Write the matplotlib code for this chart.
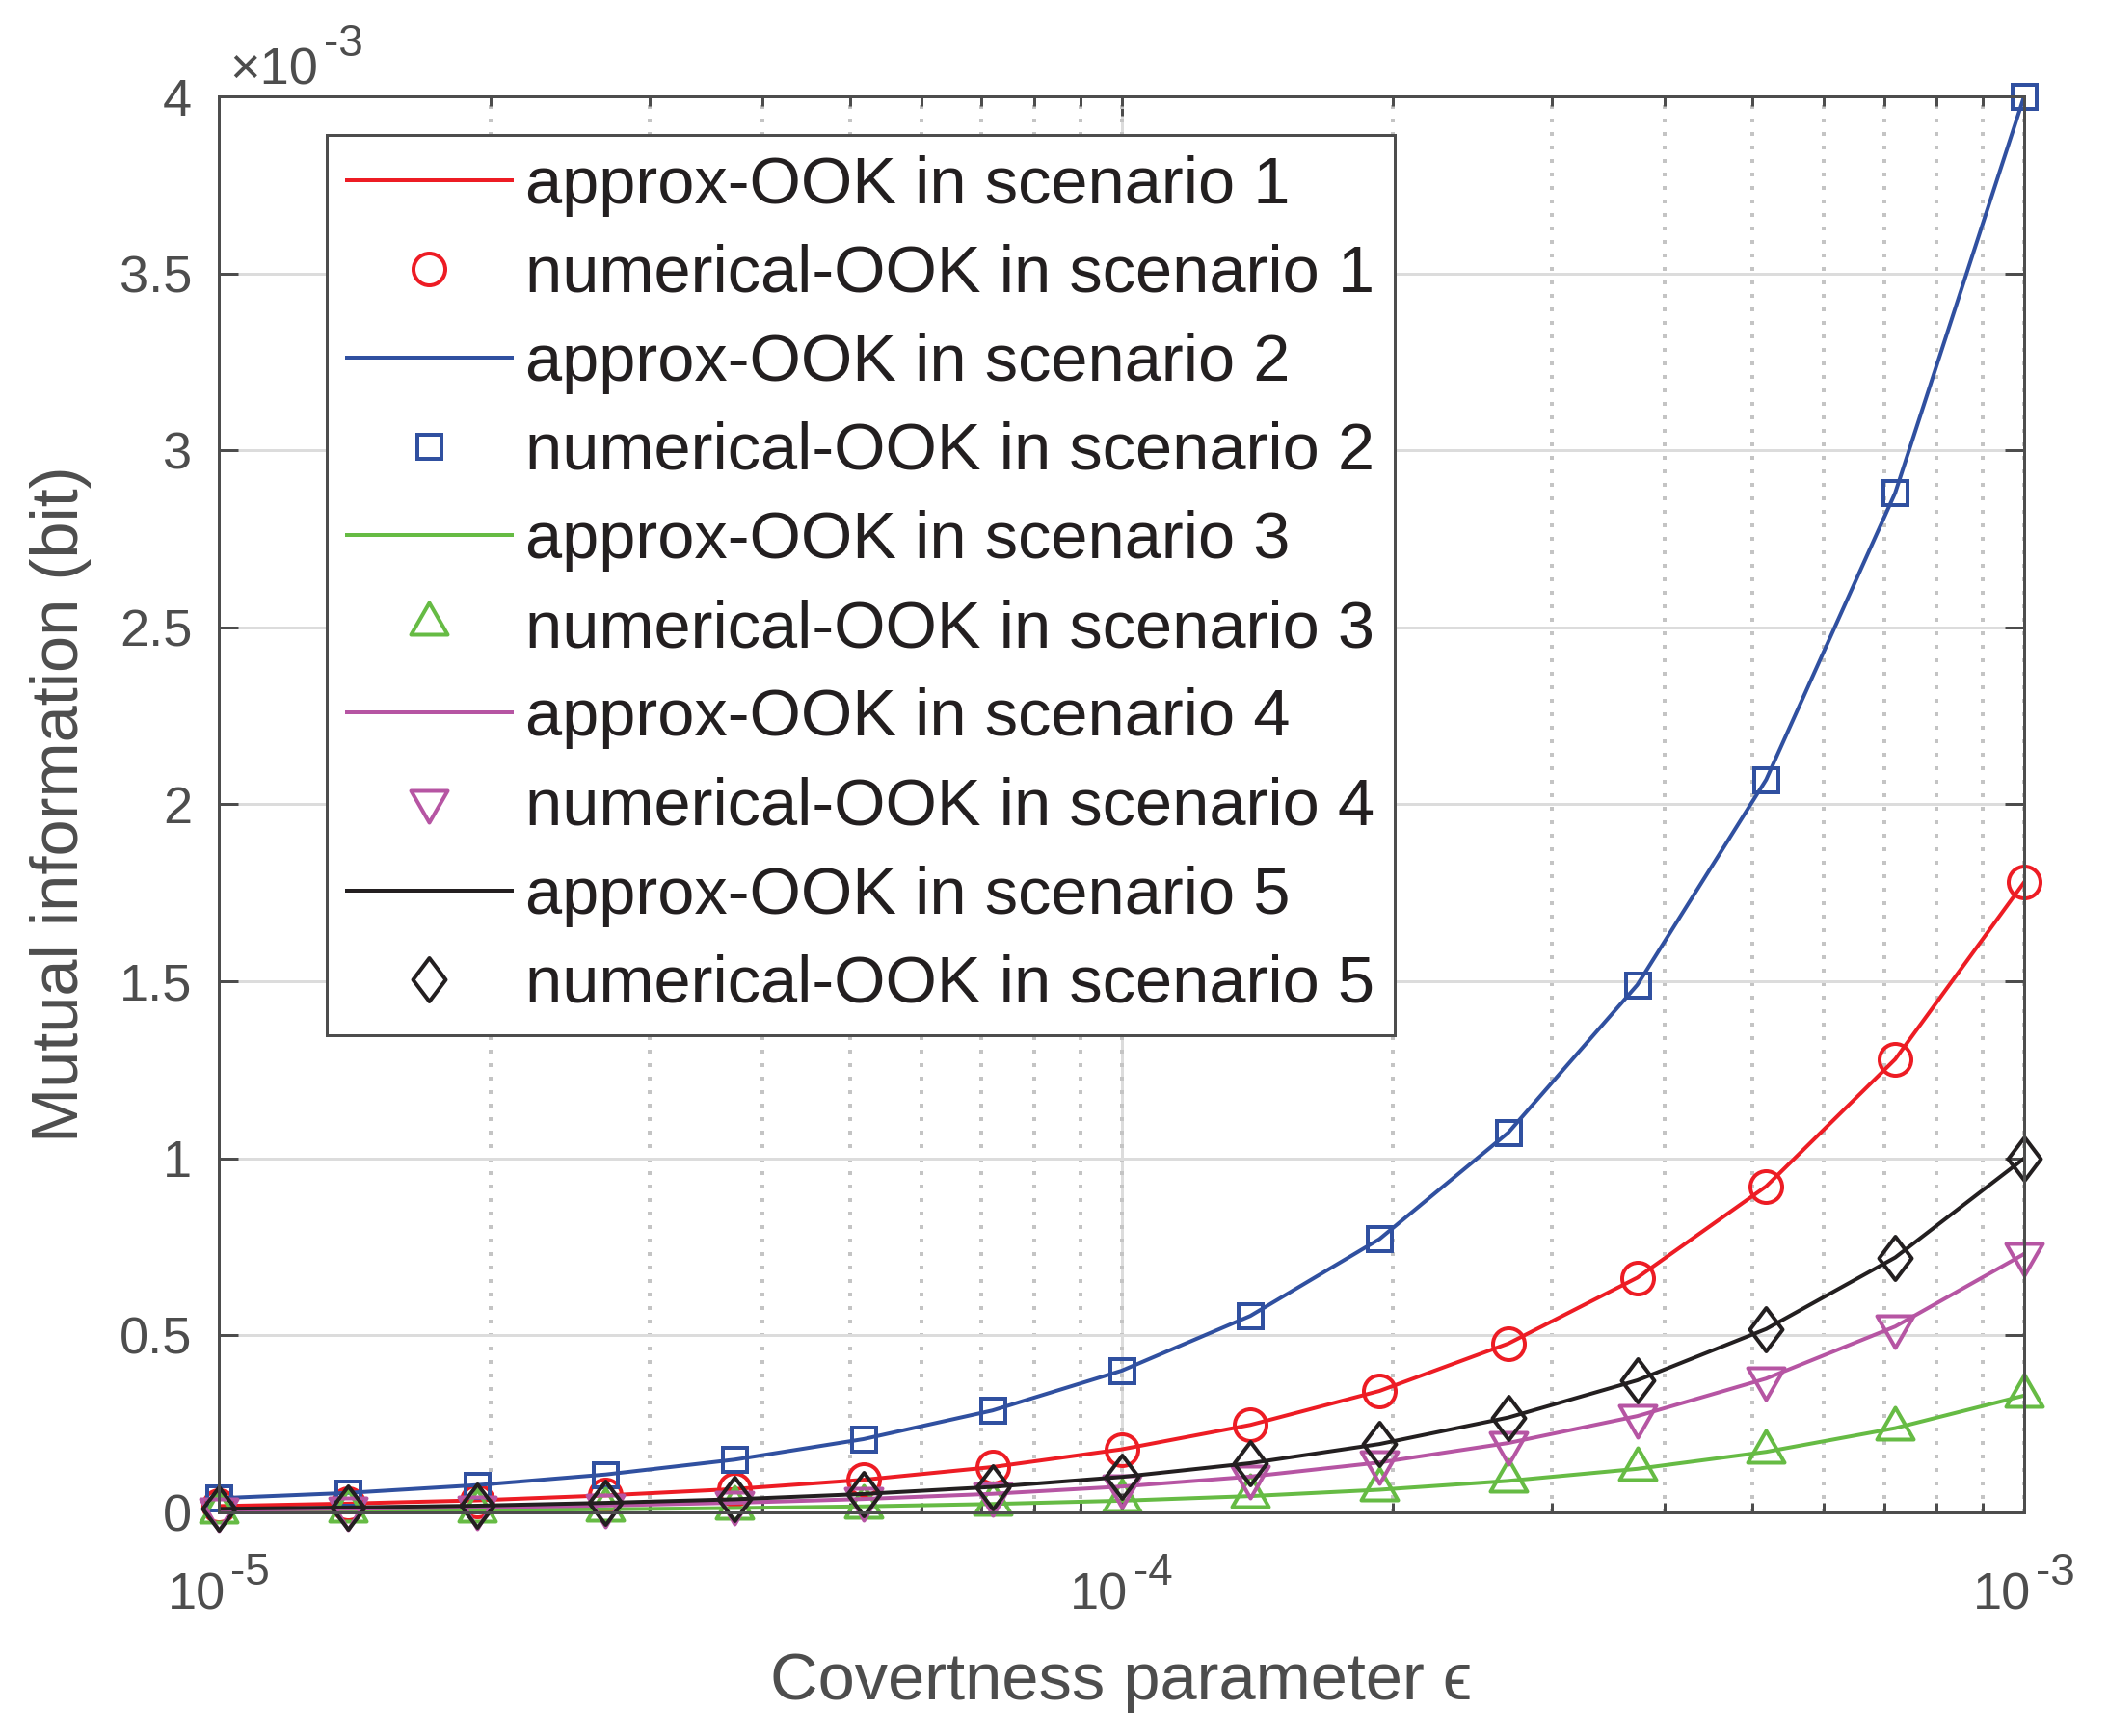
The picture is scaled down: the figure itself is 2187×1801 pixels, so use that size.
import matplotlib
matplotlib.use("Agg")
import matplotlib.pyplot as plt
import numpy as np
from matplotlib.path import Path
from matplotlib.markers import MarkerStyle
from matplotlib.ticker import LogLocator, FixedLocator, NullFormatter, FixedFormatter

plt.rcParams['font.family'] = ['Liberation Sans', 'DejaVu Sans']

# ---------------- data ----------------
epsilon = [1.0e-5, 1.389e-5, 1.931e-5, 2.683e-5, 3.728e-5, 5.179e-5, 7.197e-5,
           1.0e-4, 1.389e-4, 1.931e-4, 2.683e-4, 3.728e-4, 5.179e-4, 7.197e-4, 1.0e-3]

# mutual information, in units of 1e-3 bit
mi_s1 = [0.018, 0.025, 0.034, 0.048, 0.066, 0.092, 0.128, 0.178, 0.247, 0.343,
         0.477, 0.663, 0.921, 1.28, 1.78]
mi_s2 = [0.040, 0.055, 0.077, 0.107, 0.149, 0.207, 0.288, 0.400, 0.555, 0.772,
         1.073, 1.49, 2.07, 2.88, 4.0]
mi_s3 = [0.0033, 0.0046, 0.0064, 0.0089, 0.0123, 0.0171, 0.0238, 0.033, 0.046,
         0.064, 0.089, 0.123, 0.171, 0.238, 0.33]
mi_s4 = [0.0073, 0.0101, 0.0141, 0.0196, 0.0272, 0.0378, 0.0525, 0.073, 0.101,
         0.141, 0.196, 0.272, 0.378, 0.525, 0.73]
mi_s5 = [0.010, 0.014, 0.019, 0.027, 0.037, 0.052, 0.072, 0.100, 0.139, 0.193,
         0.268, 0.373, 0.518, 0.72, 1.0]

approx_labels = ['approx-OOK in scenario 1', 'approx-OOK in scenario 2',
                 'approx-OOK in scenario 3', 'approx-OOK in scenario 4',
                 'approx-OOK in scenario 5']
num_labels = ['numerical-OOK in scenario 1', 'numerical-OOK in scenario 2',
              'numerical-OOK in scenario 3', 'numerical-OOK in scenario 4',
              'numerical-OOK in scenario 5']

y_ticks = [0, 0.5, 1, 1.5, 2, 2.5, 3, 3.5, 4]
y_ticklabels = ['0', '0.5', '1', '1.5', '2', '2.5', '3', '3.5', '4']
x_ticks = [1e-5, 1e-4, 1e-3]
x_tick_base = ['10', '10', '10']
x_tick_exp = ['-5', '-4', '-3']
y_exponent = '-3'

# ---------------- styling ----------------
DPI = 200
W, H = 2187, 1801
def px(v):
    return v * 72.0 / DPI

colors = ['#ed1c24', '#3050a0', '#66bb44', '#b655a3', '#231f20']
axis_gray = '#4d4d4d'
tick_fs = 19.5
sup_fs = 16.5
label_fs = 24.7

def closed_marker(verts):
    v = list(verts) + [verts[0]]
    codes = [Path.MOVETO] + [Path.LINETO] * (len(verts) - 1) + [Path.CLOSEPOLY]
    return MarkerStyle(Path(v, codes), joinstyle='miter')

tri_up = closed_marker([(0, 22), (-19, -11), (19, -11)])
tri_dn = closed_marker([(0, -22), (19, 11), (-19, 11)])
diamond = closed_marker([(0, 22.5), (17, 0), (0, -22.5), (-17, 0)])

markers = ['o', 's', tri_up, tri_dn, diamond]
msizes = [px(33), px(25), px(44), px(44), px(45)]
series = [mi_s1, mi_s2, mi_s3, mi_s4, mi_s5]

fig = plt.figure(figsize=(W / DPI, H / DPI), dpi=DPI)
ax = fig.add_axes([227 / W, 1 - 1569 / H, (2100 - 227) / W, (1569 - 100) / H])

for i in range(5):
    ax.plot(epsilon, series[i], color=colors[i], lw=px(4), label=approx_labels[i],
            zorder=3 + i, solid_joinstyle='round')
    ax.plot(epsilon, series[i], ls='none', marker=markers[i], ms=msizes[i],
            mfc='none', mec=colors[i], mew=px(4), label=num_labels[i],
            zorder=3 + i, clip_on=False)

ax.set_xscale('log')
ax.set_xlim(1e-5, 1e-3)
ax.set_ylim(0, 4)

ax.xaxis.set_major_locator(FixedLocator(x_ticks))
ax.xaxis.set_major_formatter(NullFormatter())
ax.xaxis.set_minor_locator(LogLocator(base=10, subs=np.arange(1, 10), numticks=20))
ax.xaxis.set_minor_formatter(NullFormatter())
ax.xaxis.remove_overlapping_locs = False
ax.yaxis.set_major_locator(FixedLocator(y_ticks))
ax.yaxis.set_major_formatter(FixedFormatter(y_ticklabels))

ax.tick_params(which='both', direction='in', top=True, right=True,
               color=axis_gray, width=px(3))
ax.tick_params(which='major', length=px(20))
ax.tick_params(which='minor', length=px(10))
ax.tick_params(axis='y', labelsize=tick_fs, labelcolor=axis_gray, pad=10)

# x tick labels: MATLAB-style "10" with raised exponent
for xt, b, e in zip(x_ticks, x_tick_base, x_tick_exp):
    ax.annotate(b, xy=(xt, 0), xycoords=('data', 'axes fraction'),
                xytext=(px(7), -px(100)), textcoords='offset points',
                ha='right', va='baseline', fontsize=tick_fs, color=axis_gray,
                annotation_clip=False)
    ax.annotate(e, xy=(xt, 0), xycoords=('data', 'axes fraction'),
                xytext=(px(12), -px(75)), textcoords='offset points',
                ha='left', va='baseline', fontsize=sup_fs, color=axis_gray,
                annotation_clip=False)

# y exponent label
ax.annotate('×10', xy=(0, 1), xycoords='axes fraction',
            xytext=(px(330 - 227), px(100 - 87)), textcoords='offset points',
            ha='right', va='baseline', fontsize=tick_fs, color=axis_gray)
ax.annotate(y_exponent, xy=(0, 1), xycoords='axes fraction',
            xytext=(px(336 - 227), px(100 - 58)), textcoords='offset points',
            ha='left', va='baseline', fontsize=sup_fs, color=axis_gray)

for s in ax.spines.values():
    s.set_color(axis_gray)
    s.set_linewidth(px(3))
    s.set_zorder(20)

ax.set_axisbelow(True)
ax.grid(True, which='major', axis='y', color='#dcdcdc', lw=px(3), ls='-')
ax.grid(True, which='major', axis='x', color='#dcdcdc', lw=px(3), ls='-')
ax.grid(True, which='minor', axis='x', color='#c4c4c4', lw=px(4), ls=(0, (1, 2.5)))

ax.set_xlabel('Covertness parameter ϵ', fontsize=label_fs, color=axis_gray, va='center')
ax.xaxis.set_label_coords(0.5, (1569 - 1745) / 1469)
ax.set_ylabel('Mutual information (bit)', fontsize=label_fs, color=axis_gray, va='center')
ax.yaxis.set_label_coords((63 - 227) / 1873, 0.5)

leg = ax.legend(loc='upper left', bbox_to_anchor=(0.0598, 0.9728), borderaxespad=0,
                fontsize=label_fs, labelspacing=0.41, borderpad=0.3, handlelength=2.5,
                handletextpad=0.2, fancybox=False, framealpha=1, edgecolor=axis_gray,
                labelcolor='#231f20')
leg.get_frame().set_linewidth(px(3))
leg.set_zorder(30)

fig.savefig('out.png', dpi=DPI)
